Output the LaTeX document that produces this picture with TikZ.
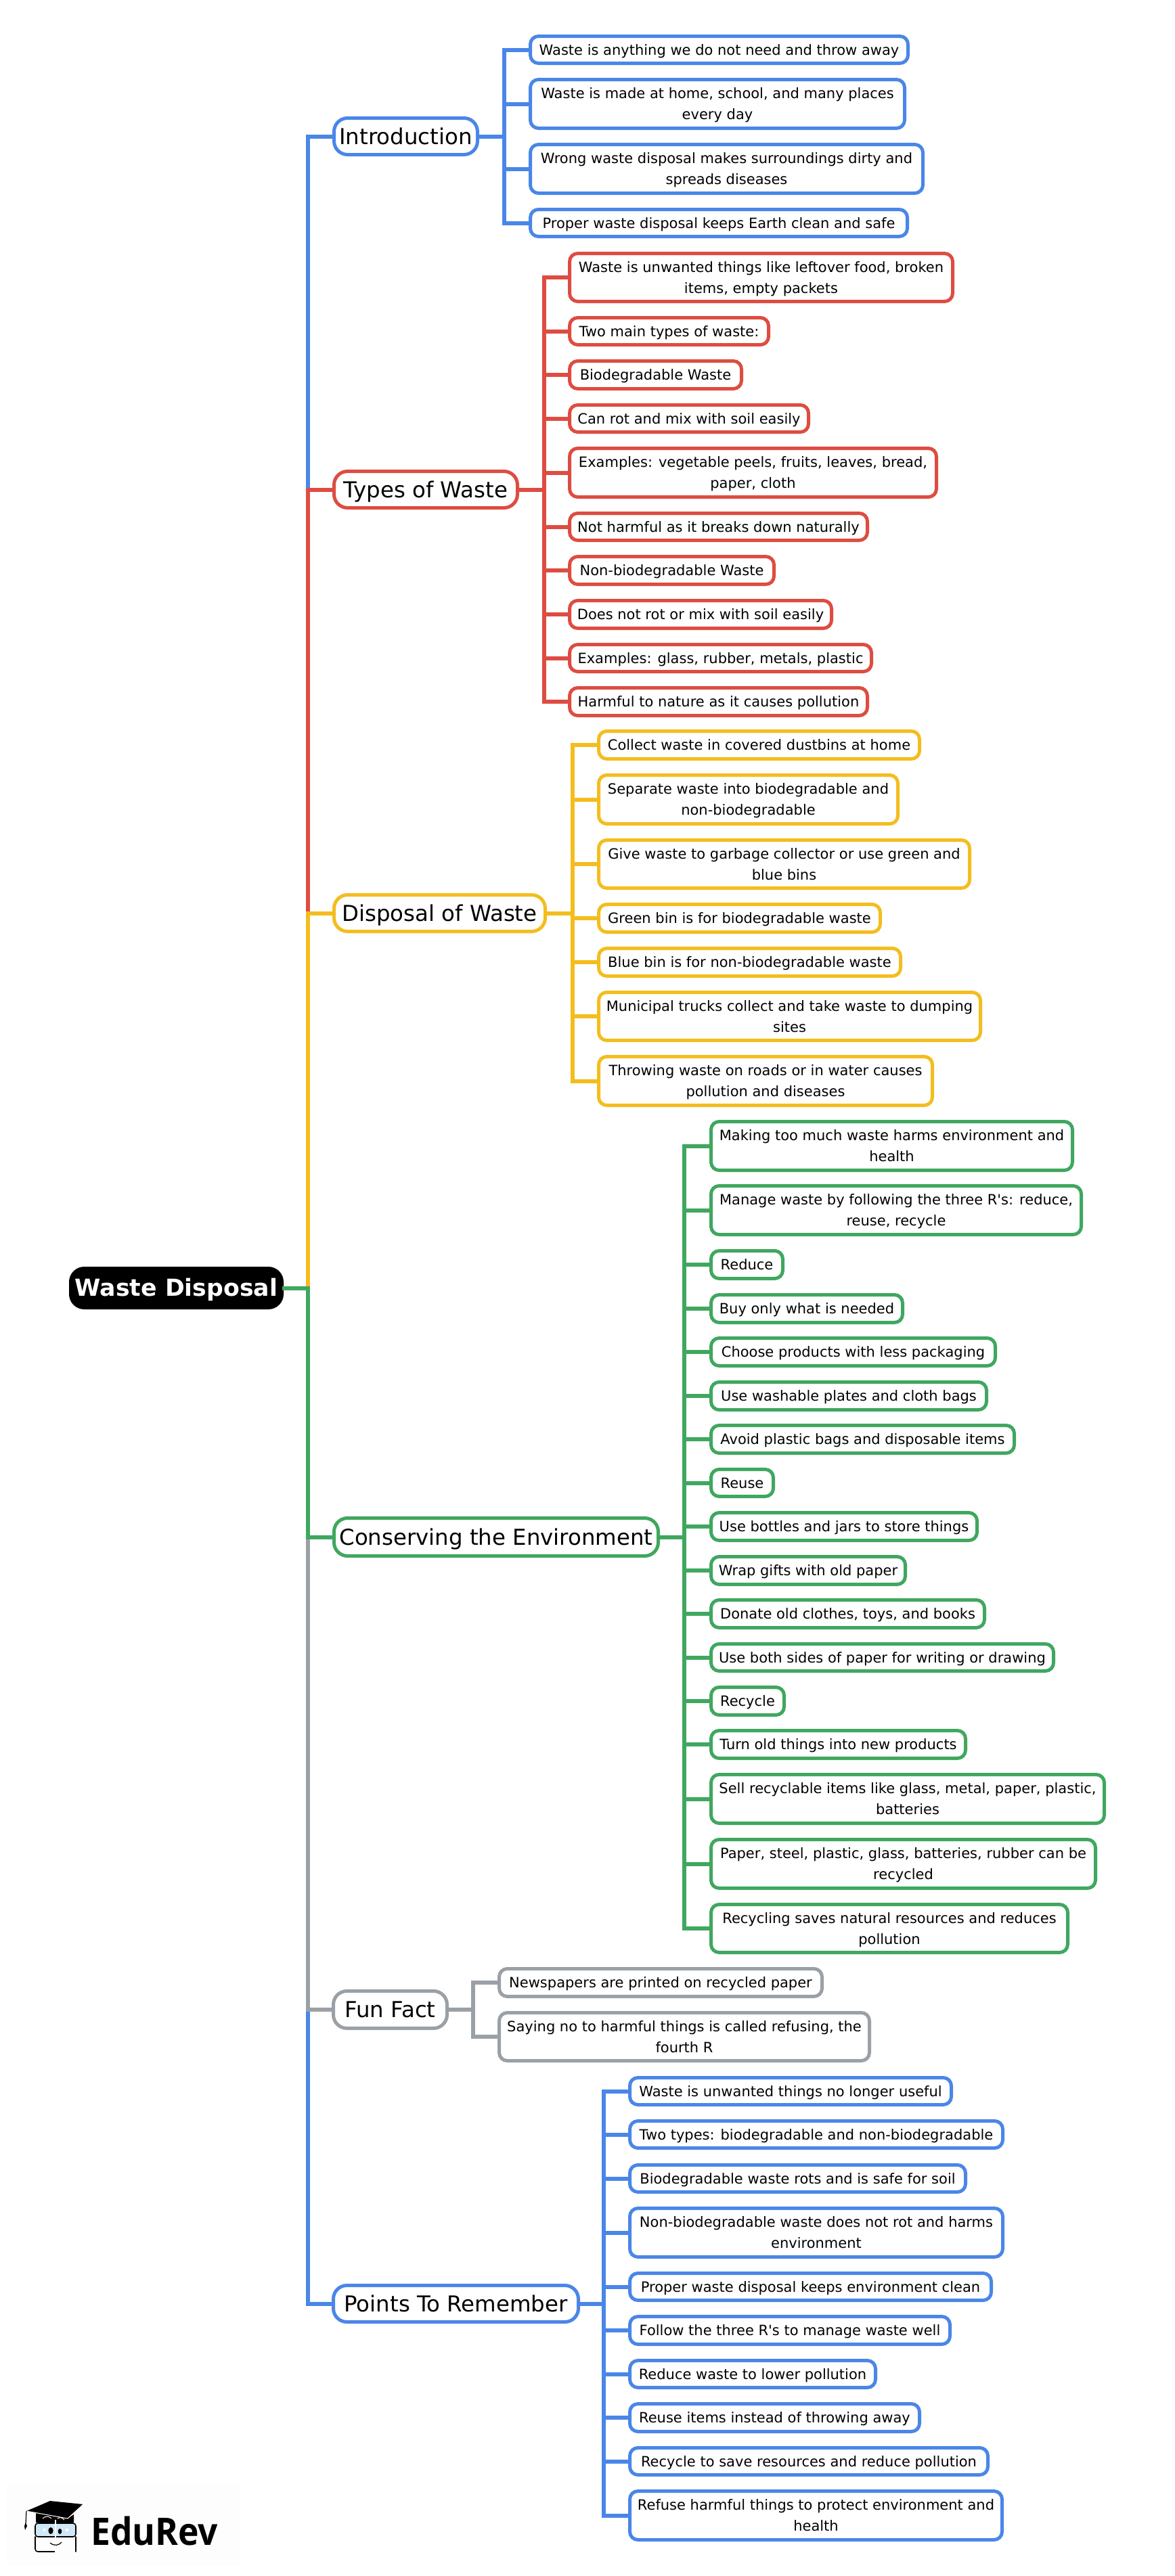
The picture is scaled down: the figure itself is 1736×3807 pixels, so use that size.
\documentclass[tikz,border=0pt]{standalone}
\usepackage{fontspec}
\setmainfont{DejaVu Sans}
\newfontfamily\logofont{Open Sans}
\definecolor{mmblue}{HTML}{4A86E8}
\definecolor{mmred}{HTML}{DE4C41}
\definecolor{mmyellow}{HTML}{F4BD1E}
\definecolor{mmgreen}{HTML}{3FA75F}
\definecolor{mmgray}{HTML}{9AA0A6}
\definecolor{lens}{HTML}{CFE8F8}
\definecolor{logoback}{HTML}{FDFDFD}
\tikzset{
  boxbase/.style={rectangle,inner sep=0pt,outer sep=0pt,align=center,fill=white,line width=5pt},
  leafbox/.style={boxbase,rounded corners=12pt,font=\fontsize{21}{31.2}\selectfont},
  mainbox/.style={boxbase,rounded corners=20pt,font=\fontsize{32.4}{50}\selectfont},
  rootbox/.style={boxbase,rounded corners=20pt,fill=black,text=white,font=\fontsize{34.7}{50}\selectfont\bfseries},
  conn/.style={line width=6pt,line join=miter,line cap=butt},
  logoline/.style={line width=1.6pt,draw=black,line cap=round,line join=round},
}
% name, style, colour, x1,y1,x2,y2, text
\newcommand{\nd}[8]{%
  \pgfmathsetmacro\cxx{(#4+#6)/2}\pgfmathsetmacro\cyy{(#5+#7)/2}%
  \pgfmathsetmacro\wid{#6-#4-5}\pgfmathsetmacro\hei{#7-#5-5}%
  \node[#2,draw=#3,minimum width=\wid pt,minimum height=\hei pt] (#1) at (\cxx,\cyy)
    {\raisebox{-1.5pt}[\height][\depth]{\begin{tabular}{@{}c@{}}#8\end{tabular}}};%
}
\begin{document}
\begin{tikzpicture}[x=1pt,y=-1pt]
\useasboundingbox (0,0) rectangle (1736,3807);
\fill[white] (0,0) rectangle (1736,3807);
% trunks
\coordinate (tR) at (455,0);
\coordinate (tI) at (745,0);
\coordinate (tT) at (804,0);
\coordinate (tD) at (846,0);
\coordinate (tE) at (1011,0);
\coordinate (tF) at (699,0);
\coordinate (tP) at (892,0);
% root and main nodes
\nd{root}{rootbox}{black}{102}{1872}{419}{1935}{Waste Disposal}
\nd{intro}{mainbox}{mmblue}{491}{172}{708}{231}{Introduction}
\nd{types}{mainbox}{mmred}{491}{694}{767}{753}{Types of Waste}
\nd{disp}{mainbox}{mmyellow}{491}{1320}{808}{1379}{Disposal of Waste}
\nd{cons}{mainbox}{mmgreen}{491}{2241}{975}{2302}{Conserving the Environment}
\nd{fun}{mainbox}{mmgray}{490}{2940}{663}{3000}{Fun Fact}
\nd{pts}{mainbox}{mmblue}{490}{3375}{857}{3434}{Points To Remember}
% Introduction
\nd{i1}{leafbox}{mmblue}{781}{51}{1344}{96}{Waste is anything we do not need and throw away}
\nd{i2}{leafbox}{mmblue}{781}{115}{1339}{192}{Waste is made at home, school, and many places\\every day}
\nd{i3}{leafbox}{mmblue}{781}{211}{1366}{288}{Wrong waste disposal makes surroundings dirty and\\spreads diseases}
\nd{i4}{leafbox}{mmblue}{781}{307}{1343}{352}{Proper waste disposal keeps Earth clean and safe}
% Types
\nd{t1}{leafbox}{mmred}{839}{372}{1410}{448}{Waste is unwanted things like leftover food, broken\\items, empty packets}
\nd{t2}{leafbox}{mmred}{839}{467}{1138}{512}{Two main types of waste:}
\nd{t3}{leafbox}{mmred}{839}{531}{1098}{577}{Biodegradable Waste}
\nd{t4}{leafbox}{mmred}{839}{596}{1197}{641}{Can rot and mix with soil easily}
\nd{t5}{leafbox}{mmred}{839}{660}{1386}{737}{Examples: vegetable peels, fruits, leaves, bread,\\paper, cloth}
\nd{t6}{leafbox}{mmred}{839}{756}{1284}{801}{Not harmful as it breaks down naturally}
\nd{t7}{leafbox}{mmred}{839}{820}{1146}{866}{Non-biodegradable Waste}
\nd{t8}{leafbox}{mmred}{839}{885}{1231}{931}{Does not rot or mix with soil easily}
\nd{t9}{leafbox}{mmred}{839}{950}{1290}{995}{Examples: glass, rubber, metals, plastic}
\nd{t10}{leafbox}{mmred}{839}{1014}{1284}{1060}{Harmful to nature as it causes pollution}
% Disposal
\nd{d1}{leafbox}{mmyellow}{882}{1078}{1361}{1124}{Collect waste in covered dustbins at home}
\nd{d2}{leafbox}{mmyellow}{882}{1143}{1329}{1220}{Separate waste into biodegradable and\\non-biodegradable}
\nd{d3}{leafbox}{mmyellow}{882}{1239}{1435}{1315}{Give waste to garbage collector or use green and\\blue bins}
\nd{d4}{leafbox}{mmyellow}{882}{1334}{1303}{1380}{Green bin is for biodegradable waste}
\nd{d5}{leafbox}{mmyellow}{882}{1399}{1333}{1445}{Blue bin is for non-biodegradable waste}
\nd{d6}{leafbox}{mmyellow}{882}{1464}{1451}{1540}{Municipal trucks collect and take waste to dumping\\sites}
\nd{d7}{leafbox}{mmyellow}{882}{1559}{1380}{1636}{Throwing waste on roads or in water causes\\pollution and diseases}
% Conserving
\nd{e1}{leafbox}{mmgreen}{1048}{1655}{1587}{1732}{Making too much waste harms environment and\\health}
\nd{e2}{leafbox}{mmgreen}{1048}{1750}{1600}{1827}{Manage waste by following the three R\textquotesingle s: reduce,\\reuse, recycle}
\nd{e3}{leafbox}{mmgreen}{1048}{1846}{1159}{1892}{Reduce}
\nd{e4}{leafbox}{mmgreen}{1048}{1911}{1336}{1957}{Buy only what is needed}
\nd{e5}{leafbox}{mmgreen}{1048}{1975}{1473}{2021}{Choose products with less packaging}
\nd{e6}{leafbox}{mmgreen}{1048}{2040}{1460}{2086}{Use washable plates and cloth bags}
\nd{e7}{leafbox}{mmgreen}{1048}{2104}{1501}{2150}{Avoid plastic bags and disposable items}
\nd{e8}{leafbox}{mmgreen}{1048}{2169}{1145}{2214}{Reuse}
\nd{e9}{leafbox}{mmgreen}{1048}{2233}{1446}{2279}{Use bottles and jars to store things}
\nd{e10}{leafbox}{mmgreen}{1048}{2298}{1340}{2344}{Wrap gifts with old paper}
\nd{e11}{leafbox}{mmgreen}{1048}{2362}{1457}{2408}{Donate old clothes, toys, and books}
\nd{e12}{leafbox}{mmgreen}{1048}{2427}{1559}{2472}{Use both sides of paper for writing or drawing}
\nd{e13}{leafbox}{mmgreen}{1048}{2491}{1161}{2537}{Recycle}
\nd{e14}{leafbox}{mmgreen}{1048}{2555}{1429}{2601}{Turn old things into new products}
\nd{e15}{leafbox}{mmgreen}{1048}{2620}{1634}{2697}{Sell recyclable items like glass, metal, paper, plastic,\\batteries}
\nd{e16}{leafbox}{mmgreen}{1048}{2716}{1621}{2793}{Paper, steel, plastic, glass, batteries, rubber can be\\recycled}
\nd{e17}{leafbox}{mmgreen}{1048}{2812}{1580}{2888}{Recycling saves natural resources and reduces\\pollution}
% Fun fact
\nd{f1}{leafbox}{mmgray}{735}{2907}{1217}{2953}{Newspapers are printed on recycled paper}
\nd{f2}{leafbox}{mmgray}{735}{2972}{1287}{3048}{Saying no to harmful things is called refusing, the\\fourth R}
% Points
\nd{p1}{leafbox}{mmblue}{928}{3068}{1408}{3113}{Waste is unwanted things no longer useful}
\nd{p2}{leafbox}{mmblue}{928}{3132}{1484}{3177}{Two types: biodegradable and non-biodegradable}
\nd{p3}{leafbox}{mmblue}{928}{3197}{1429}{3242}{Biodegradable waste rots and is safe for soil}
\nd{p4}{leafbox}{mmblue}{928}{3261}{1484}{3338}{Non-biodegradable waste does not rot and harms\\environment}
\nd{p5}{leafbox}{mmblue}{928}{3357}{1467}{3402}{Proper waste disposal keeps environment clean}
\nd{p6}{leafbox}{mmblue}{928}{3421}{1406}{3467}{Follow the three R\textquotesingle s to manage waste well}
\nd{p7}{leafbox}{mmblue}{928}{3486}{1296}{3531}{Reduce waste to lower pollution}
\nd{p8}{leafbox}{mmblue}{928}{3550}{1361}{3596}{Reuse items instead of throwing away}
\nd{p9}{leafbox}{mmblue}{928}{3615}{1462}{3660}{Recycle to save resources and reduce pollution}
\nd{p10}{leafbox}{mmblue}{928}{3679}{1483}{3756}{Refuse harmful things to protect environment and\\health}
% connectors: root to main nodes (later ones paint over earlier ones)
\draw[conn,mmblue] (root.east) -- (root.east -| tR) |- (intro.west);
\draw[conn,mmred] (root.east) -- (root.east -| tR) |- (types.west);
\draw[conn,mmyellow] (root.east) -- (root.east -| tR) |- (disp.west);
\draw[conn,mmblue] (root.east) -- (root.east -| tR) |- (pts.west);
\draw[conn,mmgray] (root.east) -- (root.east -| tR) |- (fun.west);
\draw[conn,mmgreen] (root.east) -- (root.east -| tR) |- (cons.west);
% connectors: main nodes to leaves
\foreach \c in {i1,i2,i3,i4}
  \draw[conn,mmblue] (intro.east) -- (intro.east -| tI) |- (\c.west);
\foreach \c in {t1,t2,t3,t4,t5,t6,t7,t8,t9,t10}
  \draw[conn,mmred] (types.east) -- (types.east -| tT) |- (\c.west);
\foreach \c in {d1,d2,d3,d4,d5,d6,d7}
  \draw[conn,mmyellow] (disp.east) -- (disp.east -| tD) |- (\c.west);
\foreach \c in {e1,e2,e3,e4,e5,e6,e7,e8,e9,e10,e11,e12,e13,e14,e15,e16,e17}
  \draw[conn,mmgreen] (cons.east) -- (cons.east -| tE) |- (\c.west);
\foreach \c in {f1,f2}
  \draw[conn,mmgray] (fun.east) -- (fun.east -| tF) |- (\c.west);
\foreach \c in {p1,p2,p3,p4,p5,p6,p7,p8,p9,p10}
  \draw[conn,mmblue] (pts.east) -- (pts.east -| tP) |- (\c.west);
% logo
\fill[logoback] (10,3672) rectangle (355,3792);
\fill[black] (39,3711) -- (74,3696) -- (123,3701) -- (100,3722) -- cycle;
\fill[black] (53,3713) -- (100,3722) -- (109,3716) -- (109,3728) -- (53,3728) -- cycle;
\draw[white,line width=1pt] (39,3711) -- (100,3722) -- (123,3701);
\draw[white,line width=1pt] (63,3722) .. controls (67,3718) and (72,3718) .. (76,3722);
\draw[white,line width=1pt] (85,3722) .. controls (88,3720) and (92,3720) .. (95,3724);
\draw[line width=1.2pt] (39,3711) -- (38,3730);
\fill[black] (38,3728) -- (40,3733) -- (37,3739) -- (36,3733) -- cycle;
\draw[logoline,fill=lens,rounded corners=4pt] (52,3729) rectangle (112,3749);
\draw[logoline,rounded corners=4pt] (52,3749) -- (52,3771) -- (82,3771);
\draw[logoline] (112,3749) -- (112,3771);
\fill[black] (75,3740) ellipse (3.6 and 5);
\fill[black] (88.5,3741) ellipse (2.8 and 4);
\fill[white] (64,3737) rectangle (67,3741);
\fill[white] (97,3737) rectangle (101,3741);
\draw[white,line width=2pt] (82,3724) -- (82,3773);
\draw[line width=1.2pt] (74,3758) .. controls (80,3763) and (87,3762) .. (91,3757);
\node[inner sep=0pt,anchor=base west,font=\logofont\bfseries\fontsize{56}{60}\selectfont] (logotext) at (134,3761) {\scalebox{0.92}[1]{EduRev}};
\end{tikzpicture}
\end{document}
